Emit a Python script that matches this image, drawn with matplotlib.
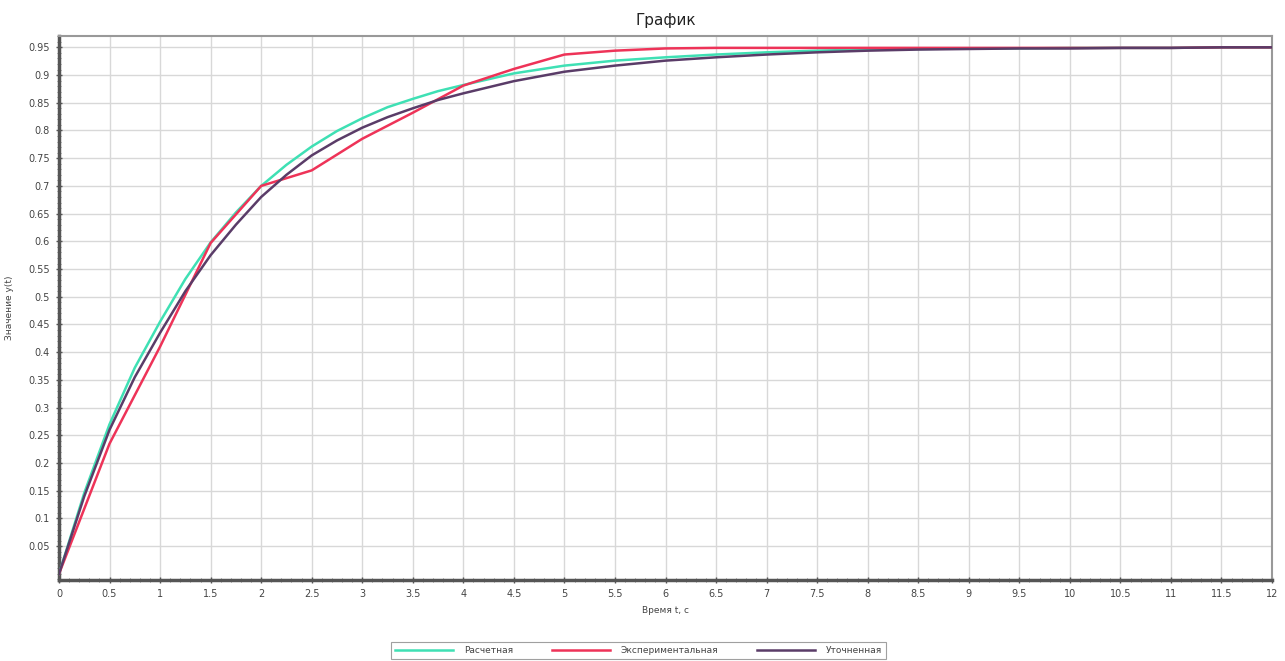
import matplotlib
matplotlib.use("Agg")
import matplotlib.pyplot as plt
from matplotlib.ticker import MultipleLocator, FuncFormatter

# Время, с
t_calc = [0, 0.25, 0.5, 0.75, 1, 1.25, 1.5, 1.75, 2, 2.25, 2.5, 2.75, 3, 3.25,
          3.5, 3.75, 4, 4.5, 5, 5.5, 6, 6.5, 7, 7.5, 8, 8.5, 9, 9.5, 10, 10.5,
          11, 11.5, 12]
# Расчетная переходная характеристика
y_calc = [0, 0.146, 0.270, 0.372, 0.455, 0.532, 0.598, 0.652, 0.700, 0.738,
          0.771, 0.799, 0.822, 0.842, 0.857, 0.871, 0.882, 0.903, 0.917, 0.926,
          0.932, 0.937, 0.941, 0.944, 0.946, 0.947, 0.948, 0.948, 0.949, 0.949,
          0.949, 0.95, 0.95]
# Экспериментальная
t_exp = [0, 0.5, 1, 1.5, 2, 2.5, 3, 3.5, 4, 4.5, 5, 5.5, 6, 6.5, 7, 7.5, 8,
         8.5, 9, 9.5, 10, 10.5, 11, 11.5, 12]
y_exp = [0, 0.235, 0.41, 0.597, 0.70, 0.728, 0.785, 0.832, 0.881, 0.911, 0.937,
         0.944, 0.948, 0.949, 0.949, 0.949, 0.949, 0.949, 0.949, 0.949, 0.949,
         0.949, 0.949, 0.95, 0.95]
# Уточненная
t_ref = t_calc
y_ref = [0, 0.14, 0.26, 0.355, 0.435, 0.51, 0.575, 0.63, 0.68, 0.72, 0.755,
         0.782, 0.805, 0.824, 0.84, 0.855, 0.867, 0.889, 0.906, 0.917, 0.926,
         0.932, 0.937, 0.941, 0.944, 0.946, 0.947, 0.948, 0.948, 0.949, 0.949,
         0.95, 0.95]

labels = ["Расчетная", "Экспериментальная", "Уточненная"]
colors = ["#3FE0B4", "#EE3358", "#5A3C68"]

plt.rcParams["font.family"] = ["DejaVu Sans"]

fig = plt.figure(figsize=(12.85, 6.61), dpi=100)
ax = fig.add_axes([0.0459, 0.1225, 0.944, 0.8235])

ax.plot(t_calc, y_calc, color=colors[0], lw=1.8, label=labels[0], zorder=3)
ax.plot(t_exp, y_exp, color=colors[1], lw=1.8, label=labels[1], zorder=4)
ax.plot(t_ref, y_ref, color=colors[2], lw=1.8, label=labels[2], zorder=5)

ax.set_xlim(0, 12)
ax.set_ylim(-0.011, 0.971)

ax.xaxis.set_major_locator(MultipleLocator(0.5))
ax.xaxis.set_minor_locator(MultipleLocator(0.1))
ax.set_yticks([round(0.05 * k, 2) for k in range(1, 20)])
ax.yaxis.set_minor_locator(MultipleLocator(0.01))

fmt = FuncFormatter(lambda v, p: ("%g" % round(v, 2)))
ax.xaxis.set_major_formatter(fmt)
ax.yaxis.set_major_formatter(fmt)

ax.grid(True, which="major", color="#d8d8d8", lw=1.0, zorder=0)
ax.set_axisbelow(True)

for side in ("left", "bottom"):
    ax.spines[side].set_color("#555555")
    ax.spines[side].set_linewidth(2.5)
for side in ("top", "right"):
    ax.spines[side].set_color("#999999")
    ax.spines[side].set_linewidth(1.5)

ax.tick_params(which="major", direction="inout", length=5, width=1,
               color="#555555", labelsize=7, labelcolor="#444444", pad=4)
ax.tick_params(which="minor", direction="inout", length=2.5, width=0.7,
               color="#888888")

ax.set_title("График", fontsize=11, color="#222222", pad=8)
ax.set_xlabel("Время t, c", fontsize=6.5, color="#444444")
ax.set_ylabel("Значение y(t)", fontsize=6.5, color="#444444")
ax.xaxis.set_label_coords(0.5, -0.048)
ax.yaxis.set_label_coords(-0.037, 0.5)

leg = fig.legend(loc="center", bbox_to_anchor=(0.497, 0.016), ncol=3,
                 fontsize=6.5, frameon=True, fancybox=False,
                 handlelength=6.4, handletextpad=1.2, columnspacing=4.3,
                 borderpad=0.45, edgecolor="#888888")
leg.get_frame().set_linewidth(0.8)
for txt in leg.get_texts():
    txt.set_color("#444444")

fig.savefig("out.png", dpi=100)
